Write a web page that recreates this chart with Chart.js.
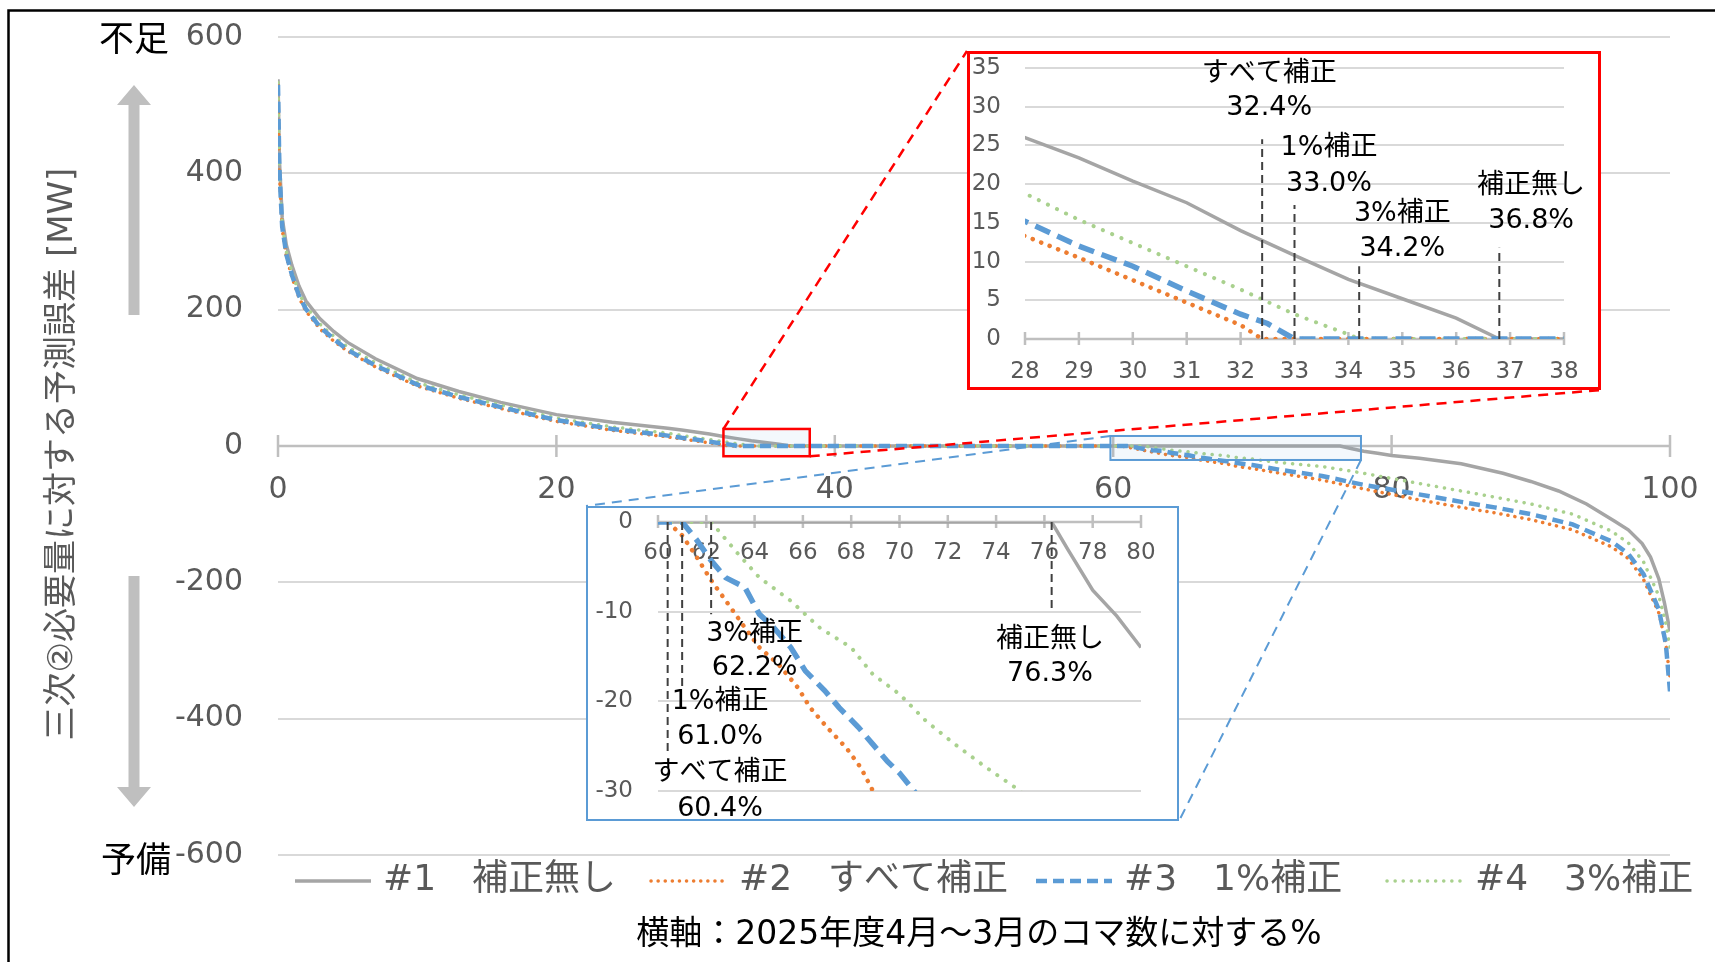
<!DOCTYPE html>
<html>
<head>
<meta charset="utf-8">
<script src="https://cdn.jsdelivr.net/npm/chart.js@4.4.1/dist/chart.umd.min.js"></script>
<style>
  body { margin: 0; background: #fff; }
  #wrap { position: relative; width: 1715px; height: 962px; overflow: hidden; background: #fff; }
  #main { position: absolute; left: 0; top: 0; }
  .inset { position: absolute; background: #fff; box-sizing: border-box; }
  .inset canvas { display: block; }
  #redBox { left: 967px; top: 51px; width: 634px; height: 339px; border: 3px solid #ff0000; }
  #blueBox { left: 586px; top: 506px; width: 593px; height: 315px; border: 2px solid #5b9bd5; }
</style>
</head>
<body>
<div id="wrap">
  <canvas id="main" width="1715" height="962"></canvas>
  <div class="inset" id="redBox"><canvas id="red" width="628" height="333"></canvas></div>
  <div class="inset" id="blueBox"><canvas id="blue" width="589" height="311"></canvas></div>
</div>
<script>
// series names (legend)
const seriesNames = ['#1　補正無し', '#2　すべて補正', '#3　1%補正', '#4　3%補正'];

// #1 補正無し : % of slots vs forecast error [MW]
const pctNone = [0, 0.1, 0.3, 0.6, 1, 1.5, 2, 3, 4, 5, 7, 10, 13, 16, 20, 24, 28, 29, 30, 31, 32, 33, 34, 35, 36, 36.8, 50, 76.3, 77, 78, 79, 80, 82, 85, 88, 90, 92, 94, 96, 97, 98, 98.6, 99.2, 99.6, 100];
const mwNone = [538, 420, 335, 295, 265, 235, 213, 187, 168, 152, 128, 99, 80, 64, 46, 35, 26, 23.4, 20.4, 17.6, 14, 10.8, 7.7, 5.2, 2.7, 0, 0, 0, -3.2, -7.6, -10.5, -14, -18, -26, -40, -52, -66, -85, -110, -123, -143, -163, -195, -230, -272];

// #2 すべて補正
const pctAll = [0, 0.1, 0.3, 0.6, 1, 1.5, 2, 3, 4, 5, 7, 10, 13, 16, 20, 24, 28, 29, 30, 31, 32, 32.4, 45, 60.4, 61, 61.6, 62.2, 63, 63.6, 64.2, 65, 65.8, 66.3, 67, 67.8, 68.4, 68.9, 70, 72, 75, 78, 81.7, 85, 87.4, 90, 93, 95.8, 97, 98.1, 99.2, 99.7, 100];
const mwAll = [530, 400, 318, 278, 248, 218, 198, 172, 154, 139, 116, 88, 70, 55, 36, 23, 13.3, 10.5, 7.6, 4.7, 1.8, 0, 0, 0, -1.5, -3.9, -6.5, -9.5, -11.8, -14, -15.9, -18.5, -20.7, -22.9, -25.2, -27.4, -30, -33, -40, -50, -63, -78, -90, -98, -108, -123, -148, -165, -196, -245, -290, -340];

// #3 1%補正
const pct1 = [0, 0.1, 0.3, 0.6, 1, 1.5, 2, 3, 4, 5, 7, 10, 13, 16, 20, 24, 28, 29, 30, 31, 32, 32.5, 33, 47, 61, 61.6, 62.2, 62.8, 63.6, 64.2, 64.8, 65.5, 66.1, 66.9, 67.5, 68.3, 68.9, 69.5, 70, 70.6, 72, 75, 78, 81.7, 85, 87.4, 90, 93, 95.8, 97, 98.1, 99.2, 99.7, 100];
const mw1 = [530, 405, 322, 281, 251, 221, 201, 175, 157, 141, 118, 90, 72, 57, 38, 25, 15.2, 12, 9.4, 6.2, 3.2, 2, 0, 0, 0, -2, -4.3, -6.2, -7.3, -10.3, -11.8, -14, -16.6, -18.8, -20.7, -22.9, -24.8, -26.7, -28, -30, -35, -44, -57, -70, -82, -90, -100, -115, -140, -158, -188, -240, -290, -360];

// #4 3%補正
const pct3 = [0, 0.1, 0.3, 0.6, 1, 1.5, 2, 3, 4, 5, 7, 10, 13, 16, 20, 24, 28, 29, 30, 31, 32, 33, 34, 34.2, 48, 62.2, 63.3, 64.2, 65.5, 66.7, 68, 68.9, 70, 71.1, 72.3, 73.6, 75, 78, 81.7, 85, 87.4, 90, 93, 95.8, 97, 98.1, 99.2, 99.7, 100];
const mw3 = [533, 410, 326, 285, 255, 225, 205, 179, 161, 145, 122, 93, 75, 60, 41, 28, 18.8, 15.4, 12.4, 9.4, 6.4, 3.2, 0.6, 0, 0, 0, -3.5, -6.2, -8.8, -11.8, -14, -17, -19.2, -22.2, -24.8, -27.4, -30, -40, -54, -66, -75, -85, -100, -125, -142, -170, -220, -260, -295];

// where each curve reaches zero (shown in the insets)
const zeroNames = ['すべて補正', '1%補正', '3%補正', '補正無し'];
const upperZero = [32.4, 33.0, 34.2, 36.8];
const lowerZero = [60.4, 61.0, 62.2, 76.3];

const seriesX = [pctNone, pctAll, pct1, pct3];
const seriesY = [mwNone, mwAll, mw1, mw3];

const FONT = "'DejaVu Sans', 'Noto Sans CJK JP', sans-serif";
const GRAYTXT = '#595959';

const mainStyles = [
    { color: '#a5a5a5', width: 3.5, dash: [], order: 4 },
    { color: '#ed7d31', width: 3.5, dash: [0.1, 7], cap: 'round', order: 3 },
    { color: '#5b9bd5', width: 4.5, dash: [11, 6], order: 1 },
    { color: '#a9d18e', width: 3.5, dash: [0.1, 8], cap: 'round', order: 2 }
];
const insetStyles = [
    { color: '#a5a5a5', width: 3.5, dash: [], order: 4 },
    { color: '#ed7d31', width: 4.5, dash: [0.1, 9], cap: 'round', order: 3 },
    { color: '#5b9bd5', width: 5.5, dash: [16, 8], order: 1 },
    { color: '#a9d18e', width: 4, dash: [0.1, 10], cap: 'round', order: 2 }
];

function buildSets(styles) {
    return seriesX.map((xs, i) => ({
        label: seriesNames[i],
        data: xs.map((v, k) => ({ x: v, y: seriesY[i][k] })),
        borderColor: styles[i].color,
        borderWidth: styles[i].width,
        borderDash: styles[i].dash,
        borderCapStyle: styles[i].cap || 'butt',
        pointRadius: 0,
        tension: 0,
        fill: false,
        order: styles[i].order
    }));
}

// axis line at y=0 with ticks crossing it
function drawZeroAxis(chart, up, down, width) {
    const { ctx, chartArea: a, scales: { x, y } } = chart;
    const y0 = y.getPixelForValue(0);
    ctx.save();
    ctx.strokeStyle = '#bfbfbf';
    ctx.lineWidth = width;
    ctx.beginPath();
    ctx.moveTo(a.left, y0);
    ctx.lineTo(a.right, y0);
    x.ticks.forEach(t => {
        const px = x.getPixelForValue(t.value);
        ctx.moveTo(px, y0 - up);
        ctx.lineTo(px, y0 + down);
    });
    ctx.stroke();
    ctx.restore();
}

function arrow(ctx, cx, from, to, dir) {
    // dir -1 = up, 1 = down
    const head = 17, shaft = 5.5, headLen = 20;
    const base = to - dir * headLen;
    ctx.beginPath();
    ctx.moveTo(cx - shaft, from);
    ctx.lineTo(cx - shaft, base);
    ctx.lineTo(cx - head, base);
    ctx.lineTo(cx, to);
    ctx.lineTo(cx + head, base);
    ctx.lineTo(cx + shaft, base);
    ctx.lineTo(cx + shaft, from);
    ctx.closePath();
    ctx.fill();
}

const mainDecor = {
    id: 'mainDecor',
    beforeDatasetsDraw(chart) {
        drawZeroAxis(chart, 11, 11, 2.5);
    },
    afterDatasetsDraw(chart) {
        const { ctx, scales: { x, y } } = chart;
        const boxes = [
            { xr: [32, 38.2], yr: [-15, 25], color: '#ff0000', fill: 'rgba(91,155,213,0.07)', lw: 2.5, to: [[967, 51], [1601, 390]] },
            { xr: [59.8, 77.8], yr: [-20.5, 14.7], color: '#5b9bd5', fill: 'rgba(91,155,213,0.07)', lw: 2, to: [[586, 506], [1179, 821]] }
        ];
        ctx.save();
        boxes.forEach(b => {
            const l = x.getPixelForValue(b.xr[0]), r = x.getPixelForValue(b.xr[1]);
            const t = y.getPixelForValue(b.yr[1]), btm = y.getPixelForValue(b.yr[0]);
            ctx.fillStyle = b.fill;
            ctx.fillRect(l, t, r - l, btm - t);
            ctx.strokeStyle = b.color;
            ctx.lineWidth = b.lw;
            ctx.setLineDash([]);
            ctx.strokeRect(l, t, r - l, btm - t);
            ctx.setLineDash([10, 7]);
            ctx.beginPath();
            ctx.moveTo(l, t); ctx.lineTo(b.to[0][0], b.to[0][1]);
            ctx.moveTo(r, btm); ctx.lineTo(b.to[1][0], b.to[1][1]);
            ctx.stroke();
        });
        ctx.restore();
    },
    afterDraw(chart) {
        const { ctx } = chart;
        ctx.save();
        // frame
        ctx.strokeStyle = '#000';
        ctx.lineWidth = 2.5;
        ctx.beginPath();
        ctx.moveTo(8.5, 962); ctx.lineTo(8.5, 10.5); ctx.lineTo(1715, 10.5);
        ctx.stroke();

        // arrows
        ctx.fillStyle = '#bfbfbf';
        arrow(ctx, 134, 315, 85, -1);
        arrow(ctx, 134, 576, 807, 1);

        ctx.fillStyle = '#000';
        ctx.textAlign = 'center';
        ctx.textBaseline = 'middle';
        ctx.font = `35px ${FONT}`;
        ctx.fillText('不足', 134, 42);
        ctx.fillText('予備', 136, 863);

        // y title
        ctx.save();
        ctx.translate(63, 454);
        ctx.rotate(-Math.PI / 2);
        ctx.fillStyle = GRAYTXT;
        ctx.font = `34px ${FONT}`;
        ctx.fillText('三次②必要量に対する予測誤差 [MW]', 0, 0);
        ctx.restore();

        // x title
        ctx.fillStyle = '#000';
        ctx.font = `33px ${FONT}`;
        ctx.fillText('横軸：2025年度4月～3月のコマ数に対する%', 979, 935);

        // legend
        const legendX = [295, 651, 1036, 1387];
        const ly = 881;
        ctx.textAlign = 'left';
        ctx.font = `36px ${FONT}`;
        chart.data.datasets.forEach((ds, i) => {
            ctx.strokeStyle = ds.borderColor;
            ctx.lineWidth = ds.borderWidth;
            ctx.lineCap = ds.borderCapStyle;
            ctx.setLineDash(ds.borderDash);
            ctx.beginPath();
            ctx.moveTo(legendX[i], ly);
            ctx.lineTo(legendX[i] + 76, ly);
            ctx.stroke();
            ctx.fillStyle = GRAYTXT;
            ctx.fillText(ds.label, legendX[i] + 88, ly);
        });
        ctx.restore();
    }
};

function insetDecor(notes, cross) {
    return {
        id: 'insetDecor',
        beforeDatasetsDraw(chart) {
            drawZeroAxis(chart, 7, 6, 2.5);
        },
        afterDatasetsDraw(chart) {
            const { ctx, scales: { x, y } } = chart;
            const y0 = y.getPixelForValue(0);
            ctx.save();
            ctx.strokeStyle = '#404040';
            ctx.lineWidth = 2;
            ctx.setLineDash([8, 5]);
            ctx.beginPath();
            notes.forEach((n, i) => {
                const px = x.getPixelForValue(cross[i]);
                ctx.moveTo(px, y0);
                ctx.lineTo(px, y.getPixelForValue(n.guide));
            });
            ctx.stroke();
            ctx.fillStyle = '#000';
            ctx.textAlign = 'center';
            ctx.textBaseline = 'middle';
            ctx.font = `27px ${FONT}`;
            notes.forEach((n, i) => {
                const px = x.getPixelForValue(n.x);
                ctx.fillText(zeroNames[i], px, y.getPixelForValue(n.y[0]));
                ctx.fillText(cross[i].toFixed(1) + '%', px, y.getPixelForValue(n.y[1]));
            });
            ctx.restore();
        }
    };
}

function baseOptions(pad, yWidth, xr, yr, tickFont, xPad, yPad) {
    return {
        responsive: false,
        animation: false,
        events: [],
        layout: { padding: pad },
        plugins: { legend: { display: false }, tooltip: { enabled: false } },
        scales: {
            x: {
                type: 'linear', min: xr[0], max: xr[1], position: { y: 0 },
                grid: { display: false, drawTicks: false },
                border: { display: false },
                ticks: { stepSize: xr[2], padding: xPad, color: GRAYTXT, font: { family: FONT, size: tickFont } },
                afterFit: s => { s.paddingLeft = 0; s.paddingRight = 0; }
            },
            y: {
                type: 'linear', min: yr[0], max: yr[1],
                grid: { color: c => c.tick.value === 0 ? 'rgba(0,0,0,0)' : '#d9d9d9', lineWidth: 2, drawTicks: false },
                border: { display: false },
                ticks: { stepSize: yr[2], padding: yPad, color: GRAYTXT, font: { family: FONT, size: tickFont } },
                afterFit: s => { s.width = yWidth; s.paddingTop = 0; s.paddingBottom = 0; }
            }
        }
    };
}

new Chart(document.getElementById('main'), {
    type: 'line',
    data: { datasets: buildSets(mainStyles) },
    options: baseOptions({ left: 0, top: 37, right: 45, bottom: 107 }, 278, [0, 100, 20], [-600, 600, 200], 30, 26, 35),
    plugins: [mainDecor]
});

// upper inset (28-38%)
const redNotes = [
    { x: 32.53, y: [34.2, 29.8], guide: 25.8 },
    { x: 33.64, y: [24.7, 20.0], guide: 17.3 },
    { x: 35.0, y: [16.1, 11.6], guide: 9.4 },
    { x: 37.39, y: [19.8, 15.3], guide: 11.8 }
];
new Chart(document.getElementById('red'), {
    type: 'line',
    data: { datasets: buildSets(insetStyles) },
    options: baseOptions({ left: 0, top: 14, right: 34, bottom: 48 }, 55, [28, 38, 1], [0, 35, 5], 23, 19, 24),
    plugins: [insetDecor(redNotes, upperZero)]
});

// lower inset (60-80%)
const blueNotes = [
    { x: 62.57, y: [-28.0, -32.0], guide: -26 },
    { x: 62.57, y: [-20.1, -24.0], guide: -18.5 },
    { x: 64.0, y: [-12.5, -16.3], guide: -10.3 },
    { x: 76.23, y: [-13.2, -16.9], guide: -10 }
];
new Chart(document.getElementById('blue'), {
    type: 'line',
    data: { datasets: buildSets(insetStyles) },
    options: baseOptions({ left: 0, top: 14, right: 36, bottom: 28 }, 70, [60, 80, 2], [-30, 0, 10], 23, 17, 25),
    plugins: [insetDecor(blueNotes, lowerZero)]
});
</script>
</body>
</html>
